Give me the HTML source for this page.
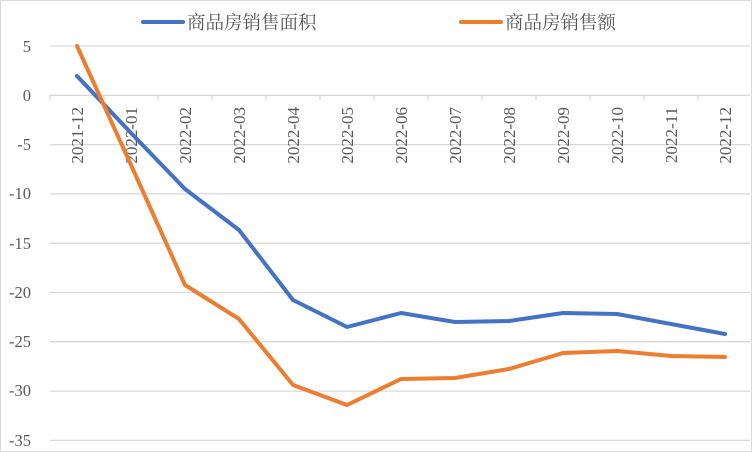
<!DOCTYPE html>
<html><head><meta charset="utf-8"><style>
html,body{margin:0;padding:0;background:#fff;}
svg{display:block;}
text{font-family:"Liberation Serif","Noto Serif CJK SC",serif;fill:#595959;}
</style></head><body>
<svg width="752" height="452" xmlns="http://www.w3.org/2000/svg">
<rect x="0.5" y="0.5" width="751" height="451" fill="#fff" stroke="#d9d9d9"/>
<g stroke="#d9d9d9" stroke-width="1.3">
<line x1="50" x2="750" y1="46" y2="46"/>
<line x1="50" x2="750" y1="144.6" y2="144.6"/>
<line x1="50" x2="750" y1="193.9" y2="193.9"/>
<line x1="50" x2="750" y1="243.2" y2="243.2"/>
<line x1="50" x2="750" y1="292.5" y2="292.5"/>
<line x1="50" x2="750" y1="341.8" y2="341.8"/>
<line x1="50" x2="750" y1="391.1" y2="391.1"/>
<line x1="50" x2="750" y1="440.4" y2="440.4"/>
<line x1="50" x2="750" y1="95.3" y2="95.3"/>
<line x1="50" x2="50" y1="95" y2="100"/><line x1="104" x2="104" y1="95" y2="100"/><line x1="158" x2="158" y1="95" y2="100"/><line x1="212" x2="212" y1="95" y2="100"/><line x1="266" x2="266" y1="95" y2="100"/><line x1="320" x2="320" y1="95" y2="100"/><line x1="374" x2="374" y1="95" y2="100"/><line x1="428" x2="428" y1="95" y2="100"/><line x1="482" x2="482" y1="95" y2="100"/><line x1="536" x2="536" y1="95" y2="100"/><line x1="590" x2="590" y1="95" y2="100"/><line x1="644" x2="644" y1="95" y2="100"/><line x1="698" x2="698" y1="95" y2="100"/>
</g>
<g font-size="16.5" text-anchor="end">
<text x="31" y="52">5</text><text x="31" y="101">0</text><text x="31" y="150">-5</text><text x="31" y="199">-10</text><text x="31" y="249">-15</text><text x="31" y="298">-20</text><text x="31" y="347">-25</text><text x="31" y="396">-30</text><text x="31" y="446">-35</text>
</g>
<g font-size="17" text-anchor="end">
<text transform="translate(83,107) rotate(-90)">2021-12</text>
<text transform="translate(137,107) rotate(-90)">2022-01</text>
<text transform="translate(191,107) rotate(-90)">2022-02</text>
<text transform="translate(245,107) rotate(-90)">2022-03</text>
<text transform="translate(299,107) rotate(-90)">2022-04</text>
<text transform="translate(353,107) rotate(-90)">2022-05</text>
<text transform="translate(407,107) rotate(-90)">2022-06</text>
<text transform="translate(461,107) rotate(-90)">2022-07</text>
<text transform="translate(515,107) rotate(-90)">2022-08</text>
<text transform="translate(569,107) rotate(-90)">2022-09</text>
<text transform="translate(623,107) rotate(-90)">2022-10</text>
<text transform="translate(677,107) rotate(-90)">2022-11</text>
<text transform="translate(731,107) rotate(-90)">2022-12</text>
</g>
<polyline fill="none" stroke="#4472c4" stroke-width="4" stroke-linejoin="round" stroke-linecap="round" points="77,76 131,133 185,189 239,230 293,300 347,327 401,313 455,322 509,321 563,313 617,314 671,324 725,334"/>
<polyline fill="none" stroke="#ed7d31" stroke-width="4" stroke-linejoin="round" stroke-linecap="round" points="77,46 131,165 185,285 239,319 293,385 347,405 401,379 455,378 509,369 563,353 617,351 671,356 725,357"/>
<line x1="143" x2="183" y1="22" y2="22" stroke="#4472c4" stroke-width="4" stroke-linecap="round"/>
<text x="187" y="29" font-size="18.5" font-family="Noto Sans CJK SC, sans-serif">商品房销售面积</text>
<line x1="461" x2="501" y1="22" y2="22" stroke="#ed7d31" stroke-width="4" stroke-linecap="round"/>
<text x="505" y="29" font-size="18.5" font-family="Noto Sans CJK SC, sans-serif">商品房销售额</text>
</svg>
</body></html>
